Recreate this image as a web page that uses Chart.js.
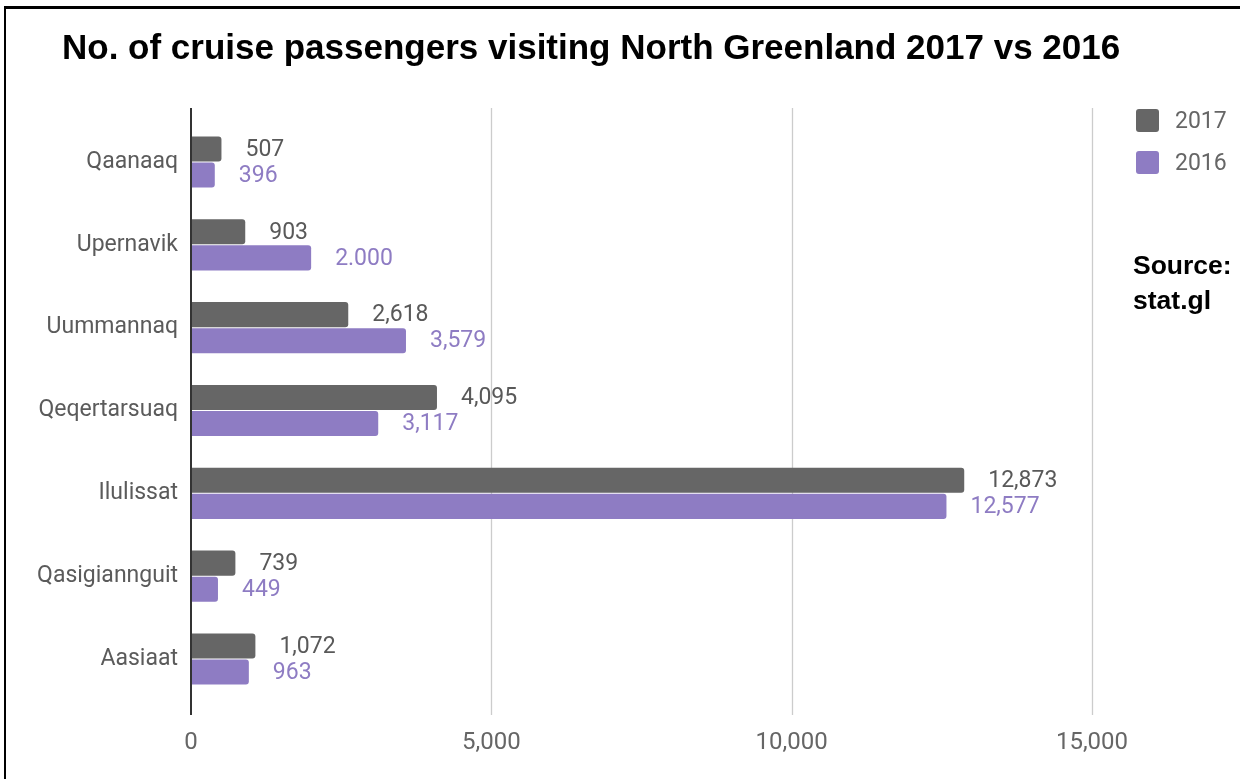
<!DOCTYPE html>
<html>
<head>
<meta charset="utf-8">
<script src="https://cdn.jsdelivr.net/npm/chart.js@4.4.1/dist/chart.umd.min.js"></script>
<style>
  html, body { margin: 0; padding: 0; background: #fff; }
  #wrap { position: relative; width: 1240px; height: 779px; overflow: hidden; }
  #frame { position: absolute; left: 4px; top: 6px; width: 1300px; height: 900px;
           border-top: 3px solid #000; border-left: 2px solid #000; box-sizing: border-box; }
  #title { position: absolute; left: 62px; top: 27px; font-family: "Liberation Sans", Arial, sans-serif;
           font-weight: bold; font-size: 35px; color: #000; white-space: nowrap; }
  .leg { position: absolute; left: 1136px; font-family: Roboto, sans-serif; font-size: 23px; color: #666; }
  .leg span.sw { position: absolute; left: 0; top: 0; width: 23px; height: 23px; border-radius: 3px; }
  .leg span.tx { position: absolute; left: 39px; top: -2px; white-space: nowrap; }
  #source { position: absolute; left: 1133px; top: 248px; font-family: "Liberation Sans", Arial, sans-serif;
            font-weight: bold; font-size: 26.5px; line-height: 35px; color: #000; }
  #c { position: absolute; left: 0; top: 0; }
</style>
</head>
<body>
<div id="wrap">
  <canvas id="c" width="1240" height="779"></canvas>
  <div id="frame"></div>
  <div id="title">No. of cruise passengers visiting North Greenland 2017 vs 2016</div>
  <div class="leg" style="top:109px"><span class="sw" style="background:#666666"></span><span class="tx">2017</span></div>
  <div class="leg" style="top:151px"><span class="sw" style="background:#8e7cc3"></span><span class="tx">2016</span></div>
  <div id="source">Source:<br>stat.gl</div>
</div>
<script>
const categories = ["Qaanaaq", "Upernavik", "Uummannaq", "Qeqertarsuaq", "Ilulissat", "Qasigiannguit", "Aasiaat"];
const values2017 = [507, 903, 2618, 4095, 12873, 739, 1072];
const values2016 = [396, 2000, 3579, 3117, 12577, 449, 963];
const labels2017 = ["507", "903", "2,618", "4,095", "12,873", "739", "1,072"];
const labels2016 = ["396", "2.000", "3,579", "3,117", "12,577", "449", "963"];
const xTicks = [0, 5000, 10000, 15000];
const seriesNames = ["2017", "2016"];

const colors = { s2017: "#666666", s2016: "#8e7cc3", lbl2017: "#595959", lbl2016: "#8e7cc3" };

const lineExtents = { top: 108, bottom: 715 };

const extrasPlugin = {
  id: "extras",
  beforeDatasetsDraw(chart) {
    const ctx = chart.ctx, xs = chart.scales.x;
    ctx.save();
    ctx.strokeStyle = "#cccccc";
    ctx.lineWidth = 1.3;
    xTicks.forEach(v => {
      if (v === 0) return;
      const x = Math.round(xs.getPixelForValue(v)) + 0.5;
      ctx.beginPath(); ctx.moveTo(x, lineExtents.top); ctx.lineTo(x, lineExtents.bottom); ctx.stroke();
    });
    ctx.restore();
  },
  afterDatasetsDraw(chart) {
    const ctx = chart.ctx, xs = chart.scales.x;
    ctx.save();
    ctx.strokeStyle = "#333333";
    ctx.lineWidth = 2;
    const x0 = xs.getPixelForValue(0);
    ctx.beginPath(); ctx.moveTo(x0, lineExtents.top); ctx.lineTo(x0, lineExtents.bottom); ctx.stroke();
    ctx.font = "23px Roboto, sans-serif";
    ctx.textBaseline = "middle";
    ctx.textAlign = "left";
    const lbls = [labels2017, labels2016];
    const cols = [colors.lbl2017, colors.lbl2016];
    chart.data.datasets.forEach((ds, di) => {
      const meta = chart.getDatasetMeta(di);
      meta.data.forEach((bar, i) => {
        ctx.fillStyle = cols[di];
        ctx.fillText(lbls[di][i], bar.x + 24, bar.y + 1);
      });
    });
    ctx.restore();
  }
};

new Chart(document.getElementById("c"), {
  type: "bar",
  data: {
    labels: categories,
    datasets: [
      { label: seriesNames[0], data: values2017, backgroundColor: colors.s2017,
        borderRadius: 3, borderSkipped: "start", categoryPercentage: 0.63, barPercentage: 0.96 },
      { label: seriesNames[1], data: values2016, backgroundColor: colors.s2016,
        borderRadius: 3, borderSkipped: "start", categoryPercentage: 0.63, barPercentage: 0.96 }
    ]
  },
  options: {
    indexAxis: "y",
    responsive: false,
    animation: false,
    devicePixelRatio: 1,
    layout: { padding: { top: 120.6, right: 148, left: 0, bottom: 0 } },
    plugins: { legend: { display: false }, title: { display: false }, tooltip: { enabled: false } },
    scales: {
      x: {
        min: 0, max: 15000,
        afterBuildTicks(scale) { scale.ticks = xTicks.map(v => ({ value: v })); },
        afterFit(scale) { scale.height = 779 - 700.4; },
        grid: { display: false, drawTicks: false },
        border: { display: false },
        ticks: {
          color: "#666666", font: { family: "Roboto", size: 24 }, padding: 28,
          callback: v => v.toLocaleString("en-US")
        }
      },
      y: {
        afterFit(scale) { scale.width = 191; },
        grid: { display: false, drawTicks: false },
        border: { display: false },
        ticks: { color: "#5b5b5b", font: { family: "Roboto", size: 23 }, padding: 13 }
      }
    }
  },
  plugins: [extrasPlugin]
});
</script>
</body>
</html>
